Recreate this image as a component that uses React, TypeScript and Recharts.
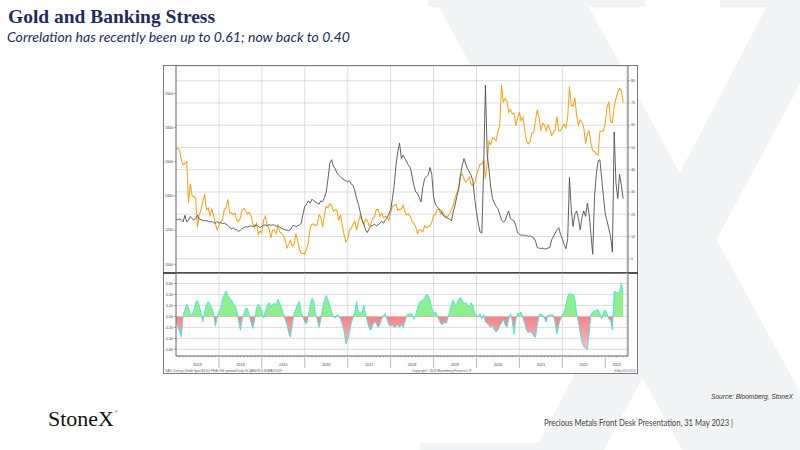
import React from 'react';
import {
  ComposedChart,
  Line,
  Area,
  XAxis,
  YAxis,
  CartesianGrid,
} from 'recharts';

// Semi-monthly observations starting Jan 2013 (24 per year)
const startYear = 2013;
const stepsPerYear = 24;

// Gold spot, USD/oz (left axis)
const gold: number[] = [
  // 2013
  1675, 1680, 1665, 1610, 1580, 1590, 1600, 1360, 1470, 1400, 1395, 1385, 1215, 1290, 1320, 1370, 1410, 1320, 1330, 1285, 1320, 1285, 1240, 1200,
  // 2014
  1225, 1250, 1260, 1320, 1330, 1380, 1300, 1300, 1290, 1300, 1255, 1250, 1270, 1320, 1325, 1310, 1295, 1305, 1280, 1235, 1215, 1240, 1175, 1195,
  // 2015
  1185, 1260, 1280, 1225, 1210, 1155, 1200, 1200, 1180, 1225, 1190, 1180, 1170, 1145, 1095, 1115, 1140, 1105, 1115, 1180, 1140, 1085, 1065, 1065,
  // 2016
  1060, 1090, 1125, 1210, 1235, 1235, 1225, 1235, 1290, 1275, 1215, 1290, 1340, 1330, 1355, 1345, 1310, 1320, 1315, 1255, 1290, 1225, 1170, 1130,
  // 2017
  1150, 1200, 1210, 1235, 1250, 1200, 1250, 1285, 1255, 1235, 1265, 1255, 1225, 1235, 1270, 1280, 1320, 1320, 1280, 1300, 1275, 1280, 1275, 1255,
  // 2018
  1305, 1340, 1345, 1350, 1315, 1320, 1325, 1345, 1305, 1290, 1295, 1280, 1250, 1240, 1220, 1180, 1200, 1200, 1190, 1225, 1215, 1220, 1225, 1245,
  // 2019
  1285, 1290, 1320, 1320, 1295, 1305, 1290, 1275, 1280, 1295, 1320, 1345, 1390, 1415, 1445, 1515, 1530, 1500, 1480, 1490, 1510, 1470, 1460, 1475,
  // 2020
  1520, 1555, 1585, 1585, 1610, 1500, 1600, 1720, 1700, 1740, 1735, 1725, 1780, 1810, 2050, 1950, 1970, 1955, 1890, 1905, 1880, 1885, 1810, 1855,
  // 2021
  1890, 1840, 1860, 1785, 1720, 1705, 1720, 1770, 1770, 1840, 1905, 1860, 1780, 1825, 1815, 1780, 1815, 1790, 1755, 1770, 1785, 1865, 1780, 1780,
  // 2022
  1805, 1820, 1800, 1860, 2040, 1930, 1925, 1975, 1870, 1815, 1845, 1830, 1800, 1705, 1765, 1780, 1705, 1665, 1660, 1645, 1640, 1775, 1780, 1780,
  // 2023
  1825, 1920, 1950, 1835, 1830, 1920, 1970, 2005, 2030, 2015, 1945,
];

// FRA-OIS spread, bp (right axis)
const spread: number[] = [
  // 2013
  17.4, 17.6, 17.8, 17.5, 16.6, 19.5, 16.5, 17.5, 19.0, 18.0, 17.4, 18.0, 19.6, 17.8, 17.6, 17.2, 17.0, 17.2, 16.8, 16.5, 16.8, 16.2, 16.0, 16.8,
  // 2014
  16.0, 16.3, 15.8, 16.0, 15.5, 15.0, 14.0, 13.5, 13.8, 13.2, 13.0, 12.3, 12.8, 13.6, 14.0, 14.4, 14.2, 14.6, 14.8, 14.5, 14.9, 15.2, 14.6, 14.0,
  // 2015
  14.6, 15.0, 15.2, 14.8, 15.4, 15.0, 15.3, 15.0, 14.6, 14.8, 14.2, 13.6, 13.4, 13.0, 12.8, 12.6, 13.0, 14.6, 15.0, 14.4, 14.8, 15.2, 16.0, 20.0,
  // 2016
  23.5, 24.5, 26.0, 25.0, 26.8, 26.0, 25.5, 25.0, 24.5, 26.0, 25.6, 27.5, 30.0, 36.0, 43.0, 44.5, 41.5, 40.5, 38.5, 37.5, 36.8, 36.0, 35.4, 35.0,
  // 2017
  34.5, 35.2, 33.5, 33.0, 30.5, 27.0, 24.5, 21.0, 17.5, 15.5, 13.0, 11.8, 13.5, 14.8, 15.0, 15.5, 14.8, 15.2, 16.0, 16.8, 16.0, 17.5, 18.5, 20.0,
  // 2018
  22.0, 27.0, 33.0, 42.0, 48.0, 52.0, 45.0, 46.5, 45.0, 43.5, 42.0, 41.0, 37.0, 33.0, 30.0, 29.5, 27.5, 25.5, 32.0, 36.0, 36.8, 37.5, 41.0, 38.0,
  // 2019
  28.0, 24.5, 23.4, 22.5, 21.8, 20.0, 19.0, 18.5, 18.2, 17.8, 17.0, 21.0, 24.0, 28.0, 31.0, 37.0, 42.0, 45.0, 42.5, 40.5, 39.0, 37.5, 35.0, 27.0,
  // 2020
  21.0, 16.0, 12.0, 11.5, 40.0, 78.0, 47.0, 40.0, 32.0, 27.0, 25.0, 23.5, 22.5, 20.0, 17.5, 16.5, 17.0, 19.5, 21.5, 18.0, 17.5, 17.0, 15.0, 11.5,
  // 2021
  11.0, 10.5, 10.8, 10.2, 10.5, 10.0, 10.3, 9.8, 9.5, 8.0, 5.0, 4.8, 4.6, 4.8, 4.4, 4.6, 4.8, 5.0, 8.5, 10.0, 11.5, 13.0, 14.0, 11.0,
  // 2022
  9.0, 6.5, 4.5, 9.0, 36.5, 22.0, 14.5, 20.0, 21.5, 18.0, 13.0, 18.5, 21.5, 19.0, 25.0, 20.0, 11.0, 2.0, 28.0, 38.0, 44.0, 44.5, 36.0, 28.0,
  // 2023
  20.0, 17.0, 13.5, 10.0, 3.0, 57.0, 34.0, 27.0, 38.0, 33.0, 27.0,
];

// Rolling correlation (lower panel)
const corr: number[] = [
  // 2013
  -0.10, -0.18, -0.28, -0.37, 0.02, 0.12, 0.22, 0.15, 0.05, 0.03, 0.10, 0.25, 0.29, 0.20, 0.05, -0.10, 0.08, 0.22, 0.27, 0.22, 0.16, 0.05, -0.18, -0.02,
  // 2014
  0.08, 0.15, 0.32, 0.40, 0.46, 0.38, 0.33, 0.30, 0.22, 0.20, 0.10, -0.08, -0.25, -0.05, 0.05, 0.15, 0.14, 0.02, -0.12, -0.22, -0.05, 0.15, 0.22, 0.18,
  // 2015
  0.10, -0.03, 0.10, 0.20, 0.25, 0.18, 0.22, 0.24, 0.20, 0.31, 0.24, 0.15, 0.05, -0.05, -0.14, -0.30, -0.38, -0.15, 0.05, 0.13, 0.22, 0.27, 0.08, -0.02,
  // 2016
  -0.10, -0.14, 0.02, 0.20, 0.33, 0.30, 0.05, -0.05, -0.20, -0.05, 0.15, 0.30, 0.38, 0.30, 0.20, 0.07, 0.00, -0.03, 0.03, 0.02, -0.05, -0.15, -0.27, -0.50,
  // 2017
  -0.42, -0.30, -0.12, -0.02, 0.10, 0.27, 0.08, 0.08, 0.05, 0.20, 0.05, -0.10, -0.20, -0.25, -0.15, -0.10, -0.12, -0.20, -0.15, -0.05, 0.02, 0.05, -0.05, -0.15,
  // 2018
  -0.18, -0.15, -0.20, -0.18, -0.15, -0.20, -0.15, -0.20, -0.10, 0.02, 0.05, 0.04, 0.05, -0.05, 0.03, 0.15, 0.24, 0.28, 0.30, 0.32, 0.40, 0.38, 0.30, 0.15,
  // 2019
  0.05, 0.08, 0.02, -0.06, -0.13, -0.15, -0.10, -0.13, -0.03, 0.08, 0.22, 0.30, 0.20, 0.22, 0.30, 0.35, 0.28, 0.23, 0.25, 0.20, 0.18, 0.25, 0.20, 0.05,
  // 2020
  0.02, 0.00, 0.05, -0.05, 0.03, -0.10, -0.13, -0.16, -0.20, -0.15, -0.25, -0.28, -0.25, -0.17, -0.12, -0.05, -0.15, -0.20, -0.05, 0.05, -0.08, -0.32, -0.05, 0.06,
  // 2021
  0.05, 0.08, -0.03, -0.13, -0.25, -0.30, -0.28, -0.30, -0.36, -0.38, -0.15, 0.03, 0.04, 0.02, -0.03, -0.10, 0.02, 0.02, 0.04, 0.02, -0.12, -0.32, -0.15, -0.05,
  // 2022
  0.02, 0.08, 0.20, 0.36, 0.42, 0.40, 0.40, 0.32, 0.05, -0.10, -0.30, -0.47, -0.55, -0.58, -0.60, -0.30, 0.03, 0.08, 0.10, 0.12, 0.12, 0.05, -0.05, 0.08,
  // 2023
  0.12, 0.05, -0.05, -0.08, -0.25, 0.45, 0.45, 0.42, 0.45, 0.61, 0.40,
];

const yearLabels = ['2013', '2014', '2015', '2016', '2017', '2018', '2019', '2020', '2021', '2022', '2023'];
const goldTicks = [1000, 1200, 1400, 1600, 1800, 2000];
const spreadTicks = [0, 10, 20, 30, 40, 50, 60, 70, 80];
const corrTicks = [-0.6, -0.4, -0.2, 0, 0.2, 0.4, 0.6];

const xStart = 2013;
const xEnd = 2023.53;

const rows = gold.map((g, k) => ({
  t: startYear + k / stepsPerYear,
  gold: g,
  spread: spread[k],
  corr: corr[k],
}));

// axis tick positions (layout helpers)
const quarterTicks: number[] = [];
for (let q = 1; xStart + q / 4 < xEnd; q++) quarterTicks.push(xStart + q / 4);
const labelTicks = yearLabels.map((y) => {
  const a = Math.max(Number(y), xStart);
  const b = Math.min(Number(y) + 1, xEnd);
  return (a + b) / 2;
});
const axisTickSet: number[] = [];
for (let m = 1; xStart + m / 12 < xEnd; m++) axisTickSet.push(xStart + m / 12);
labelTicks.forEach((l) => {
  if (!axisTickSet.some((v) => Math.abs(v - l) < 1e-6)) axisTickSet.push(l);
});
axisTickSet.sort((a, b) => a - b);

const corrMax = Math.max(...corr);
const corrMin = Math.min(...corr);
const zeroOff = corrMax / (corrMax - corrMin);

const tickFont = { fontSize: 3.6, fill: '#444', fontFamily: 'Liberation Sans, Arial, sans-serif' };
const gridColor = '#cfcfcf';

const BottomTick = (props: any) => {
  const { x, y, payload } = props;
  const v = payload.value as number;
  const li = labelTicks.findIndex((l) => Math.abs(l - v) < 1e-6);
  if (li >= 0) {
    return (
      <g>
        <line x1={x} x2={x} y1={y} y2={y + 1.5} stroke="#777" strokeWidth={0.5} />
        <text x={x} y={y + 10.3} textAnchor="middle" fontSize={3.8} fill="#444" fontFamily="Liberation Sans, Arial, sans-serif">
          {yearLabels[li]}
        </text>
      </g>
    );
  }
  if (Math.abs(v - Math.round(v)) < 1e-6) {
    return <line x1={x} x2={x} y1={y + 1} y2={y + 12} stroke="#8a8a8a" strokeWidth={0.6} />;
  }
  return <line x1={x} x2={x} y1={y} y2={y + 1.5} stroke="#777" strokeWidth={0.5} />;
};

const navy = '#1f2b5e';

export default function App() {
  return (
    <div
      style={{
        position: 'absolute',
        left: 0,
        top: 0,
        width: 800,
        height: 450,
        overflow: 'hidden',
        background: '#ffffff',
        fontFamily: 'Liberation Sans, Arial, sans-serif',
      }}
    >
      {/* watermark X */}
      <svg width={800} height={450} style={{ position: 'absolute', left: 0, top: 0 }}>
        <g fill="#f2f3f5">
          <polygon points="435,0 585,0 832,450 682,450" />
          <polygon points="770,0 845,0 604,450 535,450" />
          <rect x={428} y={0} width={217} height={7} />
          <rect x={720} y={0} width={80} height={7} />
          <rect x={420} y={443} width={167} height={7} />
          <rect x={683} y={443} width={117} height={7} />
        </g>
      </svg>

      {/* chart frame */}
      <div
        style={{
          position: 'absolute',
          left: 163,
          top: 65,
          width: 475,
          height: 309,
          boxSizing: 'border-box',
          border: '1px solid #7a7a7a',
          background: '#ffffff',
        }}
      />

      {/* upper panel */}
      <div style={{ position: 'absolute', left: 163, top: 66, width: 474, height: 207 }}>
        <ComposedChart width={474} height={207} data={rows} margin={{ top: 0, right: 0, bottom: 0, left: 0 }}>
          <CartesianGrid yAxisId="right" stroke={gridColor} strokeWidth={0.7} />
          <XAxis
            dataKey="t"
            type="number"
            domain={[xStart, xEnd]}
            ticks={quarterTicks}
            allowDataOverflow
            hide
          />
          <YAxis
            yAxisId="left"
            orientation="left"
            width={13}
            domain={[949, 2160]}
            ticks={goldTicks}
            allowDataOverflow
            tick={tickFont}
            tickSize={2}
            tickMargin={1}
            axisLine={{ stroke: '#555', strokeWidth: 0.8 }}
            tickLine={{ stroke: '#555', strokeWidth: 0.5 }}
            interval={0}
          />
          <YAxis
            yAxisId="right"
            orientation="right"
            width={9}
            domain={[-6.4, 86.6]}
            ticks={spreadTicks}
            allowDataOverflow
            tick={tickFont}
            tickSize={2}
            tickMargin={1}
            axisLine={{ stroke: '#555', strokeWidth: 0.8 }}
            tickLine={{ stroke: '#555', strokeWidth: 0.5 }}
            interval={0}
          />
          <Line
            yAxisId="left"
            dataKey="gold"
            type="linear"
            stroke="#f2a51c"
            strokeWidth={1.05}
            dot={false}
            activeDot={false}
            isAnimationActive={false}
          />
          <Line
            yAxisId="right"
            dataKey="spread"
            type="linear"
            stroke="#505050"
            strokeWidth={0.9}
            dot={false}
            activeDot={false}
            isAnimationActive={false}
          />
        </ComposedChart>
      </div>

      {/* panel divider */}
      <div style={{ position: 'absolute', left: 163, top: 272, width: 475, height: 2, background: '#505050' }} />

      {/* lower panel */}
      <div style={{ position: 'absolute', left: 163, top: 273, width: 474, height: 100 }}>
        <ComposedChart width={474} height={100} data={rows} margin={{ top: 0, right: 0, bottom: 7, left: 0 }}>
          <defs>
            <linearGradient id="corrFill" x1="0" y1="0" x2="0" y2="1">
              <stop offset={0} stopColor="#8df08d" />
              <stop offset={zeroOff} stopColor="#8df08d" />
              <stop offset={zeroOff} stopColor="#f58484" />
              <stop offset={1} stopColor="#f7bcc6" />
            </linearGradient>
          </defs>
          <CartesianGrid xAxisId="q" yAxisId="c" stroke={gridColor} strokeWidth={0.7} />
          <XAxis
            xAxisId="q"
            dataKey="t"
            type="number"
            domain={[xStart, xEnd]}
            ticks={quarterTicks}
            allowDataOverflow
            hide
          />
          <XAxis
            dataKey="t"
            type="number"
            domain={[xStart, xEnd]}
            ticks={axisTickSet}
            interval={0}
            allowDataOverflow
            height={10}
            tickSize={0}
            tickMargin={0}
            tickLine={false}
            axisLine={{ stroke: '#555', strokeWidth: 0.8 }}
            tick={<BottomTick />}
          />
          <YAxis
            yAxisId="c"
            orientation="left"
            width={13}
            domain={[-0.72, 0.79]}
            ticks={corrTicks}
            allowDataOverflow
            tick={tickFont}
            tickFormatter={(v: number) => v.toFixed(2)}
            tickSize={2}
            tickMargin={1}
            axisLine={{ stroke: '#555', strokeWidth: 0.8 }}
            tickLine={{ stroke: '#555', strokeWidth: 0.5 }}
            interval={0}
          />
          <YAxis
            yAxisId="c2"
            orientation="right"
            width={9}
            domain={[-0.72, 0.79]}
            tick={false}
            tickLine={false}
            axisLine={{ stroke: '#555', strokeWidth: 0.8 }}
          />
          <Area
            yAxisId="c"
            dataKey="corr"
            type="linear"
            baseValue={0}
            stroke="#3fe3e3"
            strokeWidth={0.9}
            fill="url(#corrFill)"
            fillOpacity={1}
            dot={false}
            activeDot={false}
            isAnimationActive={false}
          />
        </ComposedChart>
      </div>

      {/* slide texts */}
      <svg width={800} height={450} style={{ position: 'absolute', left: 0, top: 0, pointerEvents: 'none' }}>
        <text
          x={8}
          y={23}
          fontFamily="Liberation Serif, Times New Roman, serif"
          fontWeight="bold"
          fontSize={19}
          fill={navy}
          textLength={207}
          lengthAdjust="spacingAndGlyphs"
        >
          Gold and Banking Stress
        </text>
        <text
          x={7}
          y={41.5}
          fontFamily="Lato, Open Sans, sans-serif"
          fontStyle="italic"
          fontSize={13.5}
          fill={navy}
          textLength={343}
          lengthAdjust="spacingAndGlyphs"
        >
          Correlation has recently been up to 0.61; now back to 0.40
        </text>

        {/* Bloomberg footnote inside frame */}
        <text x={165} y={372} fontSize={3.5} fill="#555" textLength={117} lengthAdjust="spacingAndGlyphs">
          XAU Curncy (Gold Spot $/Oz) FRA-OIS spread Daily 01JAN2013-30MAY2023
        </text>
        <text x={412} y={372} fontSize={3.5} fill="#555" textLength={60} lengthAdjust="spacingAndGlyphs">
          Copyright© 2023 Bloomberg Finance L.P.
        </text>
        <text x={614} y={372} fontSize={3.5} fill="#555" textLength={22} lengthAdjust="spacingAndGlyphs">
          30-May-2023 14:31:52
        </text>

        <text
          x={711}
          y={399}
          fontFamily="Liberation Sans, Arial, sans-serif"
          fontStyle="italic"
          fontSize={7}
          fill="#333"
          textLength={82}
          lengthAdjust="spacingAndGlyphs"
        >
          Source: Bloomberg, StoneX
        </text>
        <text
          x={544}
          y={426}
          fontFamily="Lato, Open Sans, sans-serif"
          fontSize={8.5}
          fill="#444"
          textLength={189}
          lengthAdjust="spacingAndGlyphs"
        >
          Precious Metals Front Desk Presentation, 31 May 2023 |
        </text>
        <text
          x={48}
          y={426}
          fontFamily="Liberation Serif, Times New Roman, serif"
          fontSize={20}
          fill="#111"
          textLength={66}
          lengthAdjust="spacingAndGlyphs"
        >
          StoneX
        </text>
        <text x={115} y={413} fontFamily="Liberation Sans, Arial, sans-serif" fontSize={3.5} fill="#111">
          ®
        </text>
      </svg>
    </div>
  );
}
